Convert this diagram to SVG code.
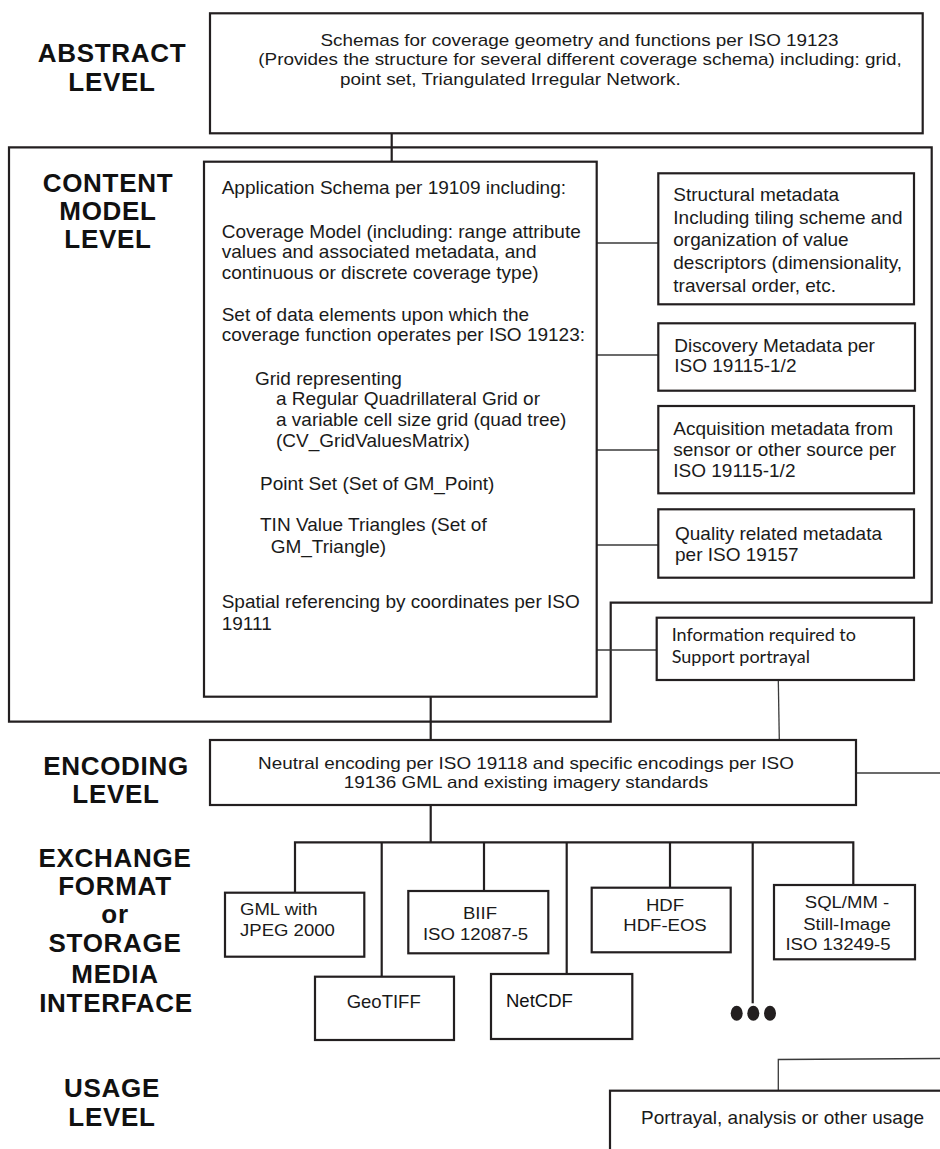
<svg xmlns="http://www.w3.org/2000/svg" width="940" height="1149" viewBox="0 0 940 1149">
<style>
.box{fill:#fff;stroke:#231f20;stroke-width:2.2}
.frame{fill:none;stroke:#231f20;stroke-width:2.2}
.wire{fill:none;stroke:#231f20;stroke-width:2.2}
.thin{fill:none;stroke:#3a3a3a;stroke-width:1.3}
.lvl{font-family:"Liberation Sans",Arial,sans-serif;font-weight:bold;font-size:26px;fill:#111;text-anchor:middle;letter-spacing:0.7px}
.t19{font-family:"Liberation Sans",Arial,sans-serif;font-size:19px;fill:#1a1a1a}
.tw{font-family:"Liberation Sans",Arial,sans-serif;font-size:16px;fill:#1a1a1a}
.cal{font-family:Lato,"Open Sans",sans-serif;font-size:18px;fill:#1a1a1a}
.mid{text-anchor:middle}
</style>
<rect width="940" height="1149" fill="#fff"/>

<g id="level-labels">
<text class="lvl" x="112" y="62">ABSTRACT</text>
<text class="lvl" x="112" y="91">LEVEL</text>
<text class="lvl" x="108" y="192">CONTENT</text>
<text class="lvl" x="108" y="220">MODEL</text>
<text class="lvl" x="108" y="248">LEVEL</text>
<text class="lvl" x="116" y="775">ENCODING</text>
<text class="lvl" x="116" y="803">LEVEL</text>
<text class="lvl" x="115" y="867">EXCHANGE</text>
<text class="lvl" x="115" y="895">FORMAT</text>
<text class="lvl" x="115" y="923">or</text>
<text class="lvl" x="115" y="952">STORAGE</text>
<text class="lvl" x="115" y="983">MEDIA</text>
<text class="lvl" x="116" y="1012">INTERFACE</text>
<text class="lvl" x="112" y="1097">USAGE</text>
<text class="lvl" x="112" y="1126">LEVEL</text>
</g>

<g id="content-frame">
<path class="frame" d="M9,147.3 H931.7 V602.7 H610.7 V721.7 H9 Z"/>
</g>

<g id="connectors">
<line class="wire" x1="391.7" y1="133.3" x2="391.7" y2="161.7"/>
<line class="thin" x1="596.7" y1="243" x2="658.3" y2="243"/>
<line class="thin" x1="596.7" y1="355" x2="658.3" y2="355"/>
<line class="thin" x1="596.7" y1="450" x2="658.3" y2="450"/>
<line class="thin" x1="596.7" y1="545" x2="658.3" y2="545"/>
<line class="thin" x1="596.7" y1="650" x2="656.7" y2="650"/>
<line class="thin" x1="778.3" y1="680" x2="779.3" y2="740"/>
<line class="wire" x1="430.7" y1="696.7" x2="430.7" y2="740"/>
<line class="thin" x1="856" y1="773" x2="940" y2="773"/>
<polyline class="wire" points="430.7,805 430.7,842.3"/>
<polyline class="wire" points="295,892.7 295,842.3 853.3,842.3 853.3,885"/>
<line class="wire" x1="381.7" y1="842.3" x2="381.7" y2="976.7"/>
<line class="wire" x1="484" y1="842.3" x2="484" y2="891"/>
<line class="wire" x1="566.7" y1="842.3" x2="566.7" y2="974"/>
<line class="wire" x1="670" y1="842.3" x2="670" y2="887.7"/>
<line class="wire" x1="752.7" y1="842.3" x2="752.7" y2="1003.3"/>
<polyline class="thin" points="778.3,1090.7 778.3,1059.5 940,1058.5"/>
</g>

<g id="abstract">
<rect class="box" x="210" y="13.3" width="712.7" height="120"/>
<text class="tw mid" transform="matrix(1.18,0,0,1,579.5,46)" x="0" y="0">Schemas for coverage geometry and functions per ISO 19123</text>
<text class="tw" transform="matrix(1.18,0,0,1,258.3,65)" x="0" y="0">(Provides the structure for several different coverage schema) including: grid,</text>
<text class="tw" transform="matrix(1.18,0,0,1,340,84.5)" x="0" y="0">point set, Triangulated Irregular Network.</text>
</g>

<g id="application-schema">
<rect class="box" x="204" y="161.7" width="392.7" height="535"/>
<text class="t19" x="221.7" y="194.3">Application Schema per 19109 including:</text>
<text class="t19" x="221.7" y="237.7">Coverage Model (including: range attribute</text>
<text class="t19" x="221.7" y="258.3">values and associated metadata, and</text>
<text class="t19" x="221.7" y="278.6">continuous or discrete coverage type)</text>
<text class="t19" x="221.7" y="321">Set of data elements upon which the</text>
<text class="t19" x="221.7" y="341.3">coverage function operates per ISO 19123:</text>
<text class="t19" x="255" y="385">Grid representing</text>
<text class="t19" x="276" y="405.3">a Regular Quadrillateral Grid or</text>
<text class="t19" x="276" y="425.6">a variable cell size grid (quad tree)</text>
<text class="t19" x="276" y="446.5">(CV_GridValuesMatrix)</text>
<text class="t19" x="260" y="490">Point Set (Set of GM_Point)</text>
<text class="t19" x="260" y="531">TIN Value Triangles (Set of</text>
<text class="t19" x="270.7" y="552.7">GM_Triangle)</text>
<text class="t19" x="221.7" y="607.7">Spatial referencing by coordinates per ISO</text>
<text class="t19" x="221.7" y="629.5">19111</text>
</g>

<g id="structural-metadata">
<rect class="box" x="658.3" y="173.3" width="255.7" height="131"/>
<text class="t19" x="673.3" y="200.7">Structural metadata</text>
<text class="t19" x="673.3" y="223.5">Including tiling scheme and</text>
<text class="t19" x="673.3" y="246.2">organization of value</text>
<text class="t19" x="673.3" y="269">descriptors (dimensionality,</text>
<text class="t19" x="673.3" y="291.7">traversal order, etc.</text>
</g>

<g id="discovery-metadata">
<rect class="box" x="658.3" y="323.3" width="256.7" height="67.4"/>
<text class="t19" x="674.3" y="351.7">Discovery Metadata per</text>
<text class="t19" x="674.3" y="372.3">ISO 19115-1/2</text>
</g>

<g id="acquisition-metadata">
<rect class="box" x="658.3" y="406" width="255.7" height="87.3"/>
<text class="t19" x="673.3" y="435">Acquisition metadata from</text>
<text class="t19" x="673.3" y="456">sensor or other source per</text>
<text class="t19" x="673.3" y="476.7">ISO 19115-1/2</text>
</g>

<g id="quality-metadata">
<rect class="box" x="658.3" y="509.3" width="255.7" height="68.4"/>
<text class="t19" x="675" y="540">Quality related metadata</text>
<text class="t19" x="675" y="561">per ISO 19157</text>
</g>

<g id="portrayal-info">
<rect class="box" x="656.7" y="617.7" width="257.3" height="62.3"/>
<text class="cal" x="671.7" y="641">Information required to</text>
<text class="cal" x="671.7" y="662.7">Support portrayal</text>
</g>

<g id="encoding">
<rect class="box" x="210" y="740" width="646" height="65"/>
<text class="tw mid" style="font-size:16.5px" transform="matrix(1.145,0,0,1,526,768.5)" x="0" y="0">Neutral encoding per ISO 19118 and specific encodings per ISO</text>
<text class="tw mid" style="font-size:16.5px" transform="matrix(1.145,0,0,1,526,788.3)" x="0" y="0">19136 GML and existing imagery standards</text>
</g>

<g id="gml-jpeg2000">
<rect class="box" x="225" y="892.7" width="139.3" height="64"/>
<text class="tw" transform="matrix(1.16,0,0,1,240,915)" x="0" y="0">GML with</text>
<text class="tw" transform="matrix(1.16,0,0,1,240,936)" x="0" y="0">JPEG 2000</text>
</g>

<g id="geotiff">
<rect class="box" x="315" y="976.7" width="139" height="63.3"/>
<text class="t19 mid" style="font-size:18.5px" x="383.7" y="1008.3">GeoTIFF</text>
</g>

<g id="biif">
<rect class="box" x="408.3" y="891" width="140" height="62.3"/>
<text class="tw mid" transform="matrix(1.16,0,0,1,480,919)" x="0" y="0">BIIF</text>
<text class="tw mid" transform="matrix(1.16,0,0,1,475.5,940)" x="0" y="0">ISO 12087-5</text>
</g>

<g id="netcdf">
<rect class="box" x="491" y="974" width="141.3" height="65"/>
<text class="t19" style="font-size:18.5px;fill:#111" x="506" y="1007.3">NetCDF</text>
</g>

<g id="hdf">
<rect class="box" x="591.7" y="887.7" width="139" height="64.6"/>
<text class="tw mid" transform="matrix(1.16,0,0,1,665,910.7)" x="0" y="0">HDF</text>
<text class="tw mid" transform="matrix(1.16,0,0,1,665,931)" x="0" y="0">HDF-EOS</text>
</g>

<g id="more-formats">
<ellipse cx="736.7" cy="1013.3" rx="6" ry="7.5" fill="#231f20"/>
<ellipse cx="753.3" cy="1013.3" rx="6" ry="7.5" fill="#231f20"/>
<ellipse cx="770" cy="1013.3" rx="6" ry="7.5" fill="#231f20"/>
</g>

<g id="sql-mm">
<rect class="box" x="774" y="885" width="141" height="74.3"/>
<text class="tw mid" transform="matrix(1.16,0,0,1,847,907.7)" x="0" y="0">SQL/MM -</text>
<text class="tw mid" transform="matrix(1.16,0,0,1,847,929.5)" x="0" y="0">Still-Image</text>
<text class="tw mid" transform="matrix(1.16,0,0,1,838,950)" x="0" y="0">ISO 13249-5</text>
</g>

<g id="usage">
<rect class="box" x="610" y="1090.7" width="400" height="100"/>
<text class="t19" x="641" y="1124">Portrayal, analysis or other usage</text>
</g>
</svg>
